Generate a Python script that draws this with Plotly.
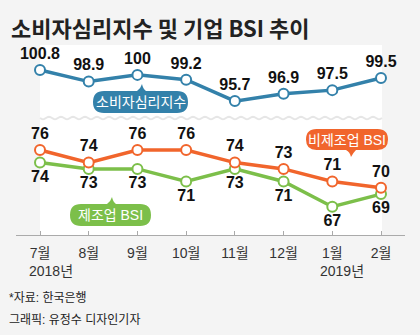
import plotly.graph_objects as go
import math

months = ["7월", "8월", "9월", "10월", "11월", "12월", "1월", "2월"]
consumer = [100.8, 98.9, 100, 99.2, 95.7, 96.9, 97.5, 99.5]
non_mfg = [76, 74, 76, 76, 74, 73, 71, 70]
mfg = [74, 73, 73, 71, 73, 71, 67, 69]
consumer_lbl = ["100.8", "98.9", "100", "99.2", "95.7", "96.9", "97.5", "99.5"]

BLUE = "#3381aa"
ORANGE = "#f1652c"
GREEN = "#7cbf4a"
BG = "#f4f4f4"

# layout geometry (pixels)
W, H = 420, 335
L, R, T, B = 16, 405, 45, 235
PW, PH = R - L, B - T

def px(x):
    return (x - L) / PW

def py(y):
    return (B - y) / PH

xs = list(range(len(months)))
x_per_px = 7 / (381 - 40)
xr = [-(40 - L) * x_per_px, 7 + (R - 381) * x_per_px]

# top axis: 100.8 at 70px, 6.1px/unit ; bottom: 76 at 150px, 6.3px/unit
top_dom_bottom_px = 119
bot_dom_top_px = 121
y2r = [100.8 - (top_dom_bottom_px - 70) / 6.1, 100.8 + (70 - T) / 6.1]
y1r = [76 - (B - 150) / 6.3, 76 + (150 - bot_dom_top_px) / 6.3]

NUMFONT = dict(family="Liberation Sans Narrow, Liberation Sans, Arial", size=16, color="#111")
KFONT = "Liberation Sans, Arial, Noto Sans CJK KR"

fig = go.Figure()

def series(y, color, text, pos, yaxis):
    fig.add_trace(go.Scatter(
        x=xs, y=y, mode="lines+markers+text", yaxis=yaxis,
        line=dict(color=color, width=3.5),
        marker=dict(size=10, color="white", line=dict(color=color, width=2)),
        text=["<b>%s</b>" % t for t in text], textposition=pos,
        textfont=NUMFONT, cliponaxis=False, showlegend=False, hoverinfo="skip"))

series(consumer, BLUE, consumer_lbl, "top center", "y2")
series(mfg, GREEN, [str(v) for v in mfg], "bottom center", "y")
series(non_mfg, ORANGE, [str(v) for v in non_mfg], "top center", "y")

shapes = []
# white plot panel
shapes.append(dict(type="rect", xref="paper", yref="paper", x0=px(40), x1=px(382),
                   y0=py(B), y1=py(T), fillcolor="white", line=dict(width=0), layer="below"))
# wavy break line
pts = []
n = 0
xx = 40.0
while xx <= 382:
    yy = 118 + 1.3 * math.sin((xx - 40) / 12 * 2 * math.pi)
    pts.append("%s%.5f,%.5f" % ("M" if n == 0 else "L", px(xx), py(yy)))
    xx += 1.5
    n += 1
shapes.append(dict(type="path", xref="paper", yref="paper", path=" ".join(pts),
                   line=dict(color="#e6e6e6", width=2), layer="below"))

def pill(x0, y0, x1, y1, color, tail_x, tail_dir):
    r = (y1 - y0) / 2
    def P(x, y):
        return "%.5f,%.5f" % (px(x), py(y))
    path = "M" + P(x0 + r, y0)
    if tail_dir == "up":
        path += " L" + P(tail_x - 3, y0) + " Q" + P(tail_x + 1, y0 - 3) + " " + P(tail_x + 2, y0 - 7) \
                + " Q" + P(tail_x + 3, y0 - 2) + " " + P(tail_x + 6, y0)
    path += " L" + P(x1 - r, y0)
    path += " Q" + P(x1, y0) + " " + P(x1, y0 + r)
    path += " Q" + P(x1, y1) + " " + P(x1 - r, y1)
    if tail_dir == "down":
        path += " L" + P(tail_x + 4, y1) + " Q" + P(tail_x + 1, y1 + 3) + " " + P(tail_x - 1, y1 + 7) \
                + " Q" + P(tail_x - 2, y1 + 2) + " " + P(tail_x - 6, y1)
    path += " L" + P(x0 + r, y1)
    path += " Q" + P(x0, y1) + " " + P(x0, y0 + r)
    path += " Q" + P(x0, y0) + " " + P(x0 + r, y0) + " Z"
    shapes.append(dict(type="path", xref="paper", yref="paper", path=path,
                       fillcolor=color, line=dict(width=0)))

pill(93, 91, 188, 113, BLUE, 140, "up")
pill(306, 129, 388, 150, ORANGE, 352, "down")
pill(70, 204, 151, 226, GREEN, 110, "up")

ann = []
def txt(x, y, s, size=14, color="white", anchor="center", family=KFONT, bold=False):
    ann.append(dict(x=px(x), y=py(y), xref="paper", yref="paper", text=("<b>%s</b>" % s) if bold else s,
                    showarrow=False, xanchor=anchor, yanchor="middle",
                    font=dict(family=family, size=size, color=color)))

txt(140.5, 102, "소비자심리지수", 14)
txt(347, 139.5, "비제조업 BSI", 14)
txt(110.5, 215, "제조업 BSI", 14)
txt(27, 271, "2018년", 14, "#333", "left")
txt(318, 271, "2019년", 14, "#333", "left")
txt(7, 297, "*자료: 한국은행", 12, "#222", "left")
txt(7, 320, "그래픽: 유정수 디자인기자", 12, "#222", "left")
txt(9, 27, "소비자심리지수 및 기업 BSI 추이", 22, "#222", "left", "Noto Sans CJK KR", True)

fig.update_layout(
    width=W, height=H, margin=dict(l=L, r=W - R, t=T, b=H - B),
    paper_bgcolor=BG, plot_bgcolor="rgba(0,0,0,0)",
    shapes=shapes, annotations=ann, showlegend=False,
    xaxis=dict(range=xr, tickmode="array", tickvals=xs, ticktext=months,
               showgrid=False, zeroline=False, showline=True, linecolor="#aaa", linewidth=1,
               ticks="inside", ticklen=4, tickcolor="#aaa", ticklabelstandoff=5,
               tickfont=dict(family=KFONT, size=14, color="#333"), fixedrange=True),
    yaxis=dict(domain=[0, py(bot_dom_top_px)], range=y1r, visible=False, fixedrange=True),
    yaxis2=dict(domain=[py(top_dom_bottom_px), 1], range=y2r, visible=False, fixedrange=True),
)

fig.write_html("out.html")
